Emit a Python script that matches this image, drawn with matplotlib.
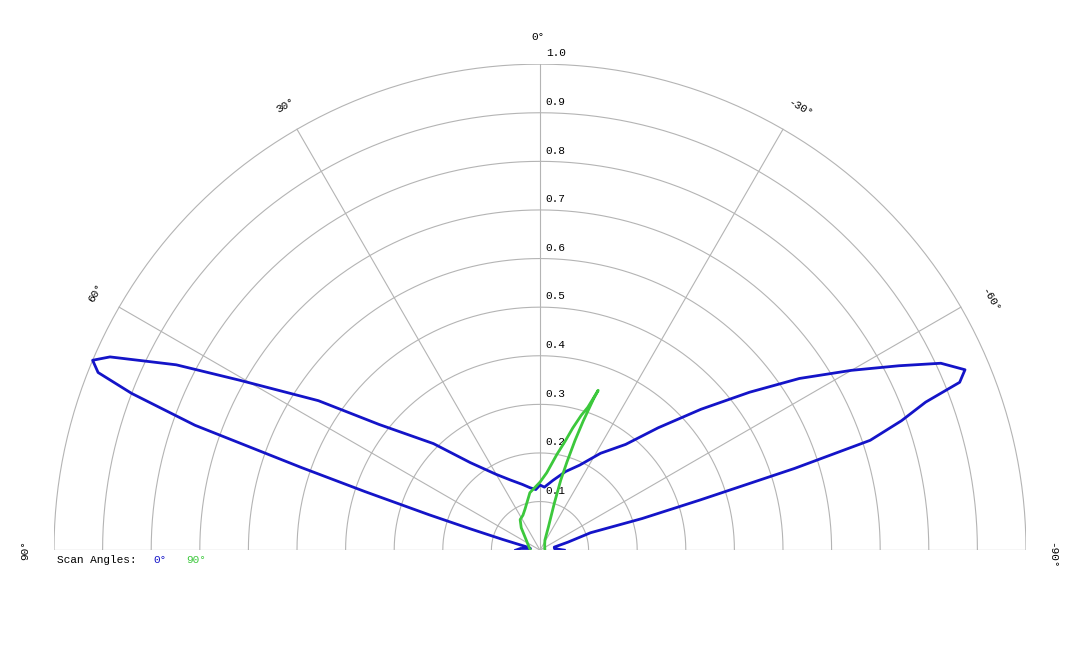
import numpy as np
import matplotlib.pyplot as plt

plt.rcParams['font.family'] = ['Liberation Mono', 'DejaVu Sans Mono']

# scan 0 deg (blue): angle in degrees (positive = left), relative intensity
blue_ang = [90, 85, 80, 76, 74, 73, 72.3, 71.5, 70.9, 70.1, 69, 68.1, 67, 65.8, 63, 60.5, 56, 52, 45, 38.5, 30,
            23, 15, 9, 4, 0, -4, -10.5, -18, -25, -32, -39, -44, -48.8, -53, -56.5, -60, -62.8, -65, -67,
            -68.2, -69, -70.3, -71.6, -72.2, -72.6, -72.8, -71, -74, -78, -84, -90]
blue_r = [0.05, 0.04, 0.02, 0.03, 0.08, 0.15, 0.24, 0.38, 0.52, 0.755, 0.90, 0.98, 1.0, 0.97, 0.84, 0.71, 0.55,
          0.42, 0.31, 0.23, 0.18, 0.157, 0.14, 0.13, 0.125, 0.134, 0.13, 0.146, 0.17, 0.193, 0.235, 0.28,
          0.35, 0.44, 0.54, 0.64, 0.74, 0.83, 0.91, 0.95, 0.93, 0.85, 0.79, 0.716, 0.55, 0.345, 0.22, 0.11,
          0.06, 0.03, 0.03, 0.05]

# scan 90 deg (green)
green_ang = [90, 60, 40, 33, 26, 20, 10, 0, -5, -10, -13, -15, -17, -18.5, -20, -19.5, -18.5, -17.7, -17,
             -16.5, -17, -20, -26, -40, -90]
green_r = [0.02, 0.03, 0.06, 0.075, 0.08, 0.09, 0.12, 0.14, 0.16, 0.2, 0.23, 0.26, 0.29, 0.31, 0.35, 0.33,
           0.28, 0.237, 0.19, 0.15, 0.10, 0.05, 0.023, 0.015, 0.01]

rings = np.arange(0.1, 1.01, 0.1)
spokes = [-90, -60, -30, 0, 30, 60, 90]


def xy(ang, r):
    a = np.radians(np.asarray(ang, float))
    r = np.asarray(r, float)
    return -r * np.sin(a), r * np.cos(a)


fig = plt.figure(figsize=(10.8, 6.48), dpi=100)
ax = fig.add_axes([0.05, 0.151, 0.9, 0.75])
ax.set_xlim(-1, 1)
ax.set_ylim(0, 1)
ax.set_aspect('equal')
ax.axis('off')

grid = dict(color='#b4b4b4', lw=0.8, zorder=1)
t = np.linspace(-90, 90, 361)
for rv in rings:
    ax.plot(*xy(t, np.full_like(t, rv)), **grid)
    ax.text(0.012, rv + 0.012, '%.1f' % rv, fontsize=8, ha='left', va='bottom', zorder=2)
for s in spokes:
    ax.plot(*xy([s, s], [0, 1]), **grid)
ax.plot([-1, 1], [0, 0], **grid)

ax.plot(*xy(blue_ang, blue_r), color='#1414c8', lw=2, zorder=3)
ax.plot(*xy(green_ang, green_r), color='#3cc83c', lw=2, zorder=4)


def ptext(x, y, s, rot=0, **kw):
    fig.text(x / 1080, 1 - y / 648, s, rotation=rot, ha='center', va='center', fontsize=8, **kw)

ptext(538, 37, '0°')
ptext(285, 105, '30°', 30)
ptext(95, 293, '60°', 60)
ptext(25, 550, '90°', 90)
ptext(800, 108, '-30°', -30)
ptext(990, 300, '-60°', -60)
ptext(1052, 555, '-90°', -90)

fig.text(57 / 1080, 1 - 560 / 648, 'Scan Angles:', fontsize=8, va='center')
fig.text(153 / 1080, 1 - 560 / 648, '0°', fontsize=8, va='center', color='#1414c8')
fig.text(186 / 1080, 1 - 560 / 648, '90°', fontsize=8, va='center', color='#3cc83c')

fig.savefig('out.png', dpi=100)
